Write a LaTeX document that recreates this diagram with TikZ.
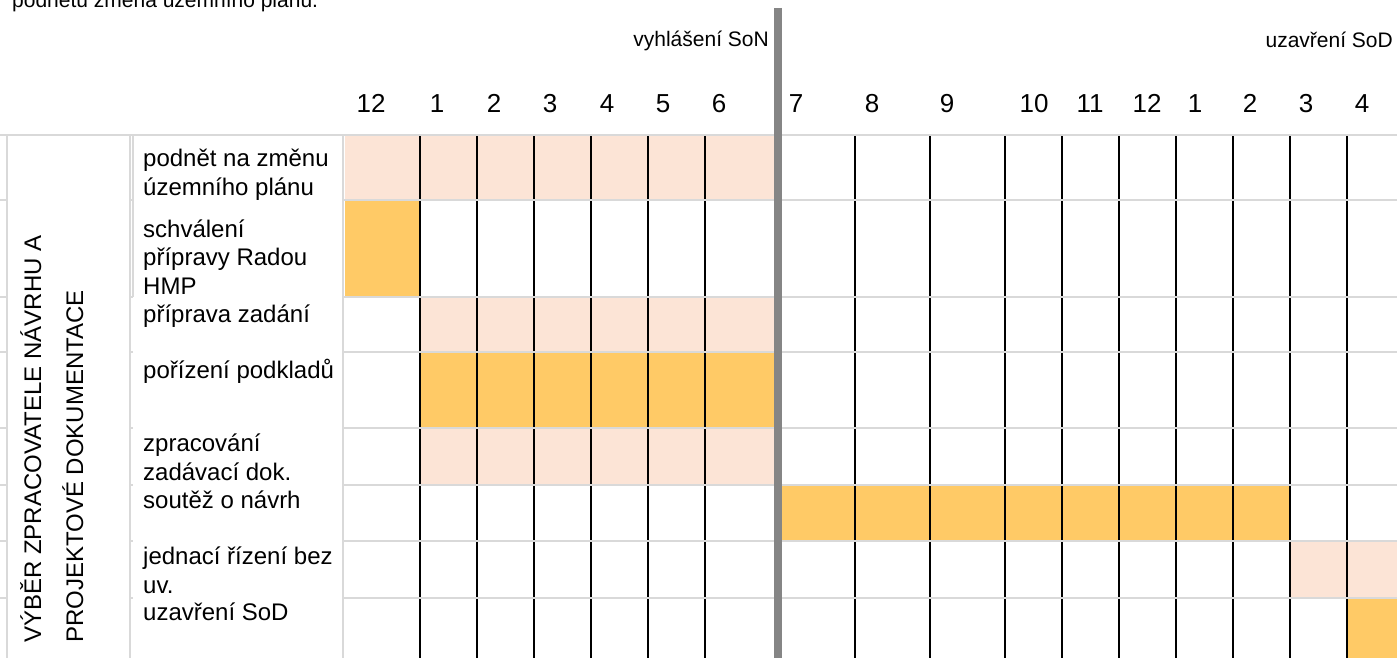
\documentclass[tikz,border=0pt]{standalone}
\usepackage{fontspec}
\setmainfont{Liberation Sans}
\usetikzlibrary{positioning}
\definecolor{peach}  {HTML}{FCE4D6}
\definecolor{amber}  {HTML}{FFCA66}
\definecolor{rule}   {HTML}{D9D9D9}
\definecolor{divider}{HTML}{858585}
\tikzset{
  % --- text
  lbl/.style  = {anchor=base west, inner sep=0pt, align=left,
                 font=\fontsize{24}{28.5}\selectfont},
  num/.style  = {anchor=base, inner sep=0pt, font=\fontsize{26}{30}\selectfont},
  head/.style = {anchor=base east, inner sep=0pt, font=\fontsize{21}{24}\selectfont},
  sect/.style = {anchor=base west, inner sep=0pt, rotate=90,
                 font=\fontsize{24}{28}\selectfont},
  % --- cells and lines
  lite/.style    = {fill=peach},
  full/.style    = {fill=amber},
  colline/.style = {line width=1.6pt, draw=black},
  rowline/.style = {line width=1.8pt, draw=rule},
}
\begin{document}
\begin{tikzpicture}[x=1pt,y=-1pt]
  \useasboundingbox (0,0) rectangle (1397,658);
  \fill[white] (0,0) rectangle (1397,658);

  % cut-off caption at the top
  \node[anchor=base west, inner sep=0pt, font=\fontsize{21}{24}\selectfont]
    (caption) at (12,7.5) {podnětu změna územního plánu.};

  % filled cells
  \fill[lite] (345,135) rectangle (775,200);
  \fill[full] (345,200) rectangle (420,297);
  \fill[lite] (420,297) rectangle (775,352);
  \fill[full] (420,352) rectangle (775,428);
  \fill[lite] (420,428) rectangle (775,485);
  \fill[full] (782,485) rectangle (1290,541);
  \fill[lite] (1290,541) rectangle (1397,598);
  \fill[full] (1347,598) rectangle (1397,658);

  % month columns
  \foreach \x in {420,477,534,591,648,705,855,930,1005,1062,1119,1176,1233,1290,1347}
    \draw[colline] (\x,135) -- (\x,658);

  % rows
  \foreach \y in {135,200,297,352,428,485,541,598}
    \draw[rowline] (0,\y) -- (1397,\y);

  % left boxes
  \filldraw[fill=white, draw=rule, line width=1.2pt] (7,135) rectangle (130,670);
  \fill[white] (133,136) rectangle (343,670);
  \draw[rule, line width=1.2pt] (133,297) -- (133,135) -- (343,135) -- (343,670);

  % announcement divider
  \draw[divider, line width=8pt] (778,8) -- (778,658);

  % header
  \node[head] (son) at (769,47) {vyhlášení SoN};
  \node[head] (sod) at (1393,48) {uzavření SoD};
  \foreach \x/\t [count=\i] in {371/12,437/1,494/2,550/3,607/4,663/5,719/6,
      796/7,872/8,947/9,1034/10,1090/11,1147/12,1195/1,1250/2,1306/3,1362/4}
    \node[num] (m\i) at (\x,113) {\t};

  % section title
  \node[sect] (sekceA) at (41,643) {VÝBĚR ZPRACOVATELE NÁVRHU A};
  \node[sect] (sekceB) at (83,643) {PROJEKTOVÉ DOKUMENTACE};

  % activities (placed on the baseline of their last line)
  \node[lbl] (podnet)     at (143,195) {podnět na změnu\\územního plánu};
  \node[lbl] (schvaleni)  at (143,294) {schválení\\přípravy Radou\\HMP};
  \node[lbl] (priprava)   at (143,322) {příprava zadání};
  \node[lbl] (porizeni)   at (143,378) {pořízení podkladů};
  \node[lbl] (zpracovani) at (143,480) {zpracování\\zadávací dok.};
  \node[lbl] (soutez)     at (143,508) {soutěž o návrh};
  \node[lbl] (jednaci)    at (143,593) {jednací řízení bez\\uv.};
  \node[lbl] (uzavreni)   at (143,620) {uzavření SoD};
\end{tikzpicture}
\end{document}
